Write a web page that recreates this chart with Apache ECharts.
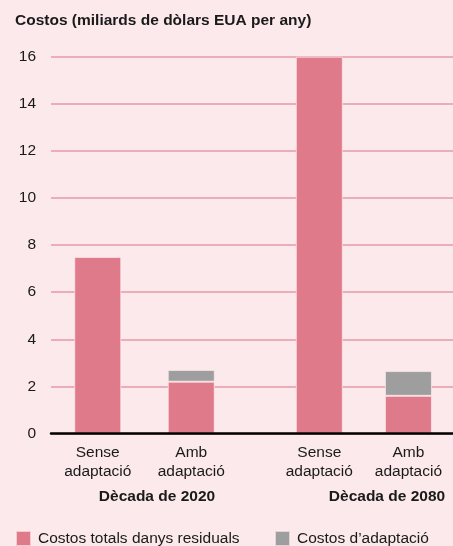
<!DOCTYPE html>
<html>
<head>
<meta charset="utf-8">
<script src="https://cdn.jsdelivr.net/npm/echarts@6/dist/echarts.min.js"></script>
<style>
  html, body { margin: 0; padding: 0; background: #fbe9eb; }
  #chart { width: 453px; height: 546px; }
</style>
</head>
<body>
<div id="chart"></div>
<script>
// values
const scenarios = ['Sense\nadaptació', 'Amb\nadaptació']
const decades = ['Dècada de 2020', 'Dècada de 2080']
const residual2020 = [7.5, 2.2]
const adapt2020 = [null, 0.5]
const residual2080 = [16, 1.6]
const adapt2080 = [null, 1.05]
const yMin = 0
const yMax = 16
const yStep = 2

const FONT = '"Liberation Sans", Arial, sans-serif'
const PINK = '#df7a8b'
const GREY = '#9e9e9e'
const INK = '#1a1a1a'
const nameResidual = 'Costos totals danys residuals'
const nameAdapt = 'Costos d\u2019adaptació'

const chart = echarts.init(document.getElementById('chart'), null, { renderer: 'canvas' })

const hiddenY = (idx) => ({
  type: 'value', gridIndex: idx, min: yMin, max: yMax, interval: yStep, show: false
})
const catX = (idx) => ({
  type: 'category',
  gridIndex: idx,
  data: scenarios,
  axisLine: { show: false },
  axisTick: { show: false },
  axisLabel: {
    color: INK, fontFamily: FONT, fontSize: 15.5, lineHeight: 18.5, margin: 10
  }
})
const barStyle = (color) => ({ color: color, borderColor: 'rgba(255,235,238,0.7)', borderWidth: 1 })

chart.setOption({
  backgroundColor: '#fbe9eb',
  animation: false,
  graphic: [
    {
      type: 'text', left: 15, top: 13,
      style: { text: 'Costos (miliards de dòlars EUA per any)', fill: INK, font: 'bold 15.5px ' + FONT }
    },
    {
      type: 'text', x: 157, y: 496.5,
      style: { text: decades[0], fill: INK, font: 'bold 15.5px ' + FONT, align: 'center', verticalAlign: 'middle' }
    },
    {
      type: 'text', x: 387, y: 496.5,
      style: { text: decades[1], fill: INK, font: 'bold 15.5px ' + FONT, align: 'center', verticalAlign: 'middle' }
    }
  ],
  legend: [
    {
      data: [nameResidual], left: 15, top: 530, padding: 0,
      icon: 'rect', itemWidth: 15, itemHeight: 15, itemGap: 0,
      textStyle: { color: INK, fontFamily: FONT, fontSize: 15.5, padding: [0, 0, 0, 2] }
    },
    {
      data: [nameAdapt], left: 274, top: 530, padding: 0,
      icon: 'rect', itemWidth: 15, itemHeight: 15, itemGap: 0,
      textStyle: { color: INK, fontFamily: FONT, fontSize: 15.5, padding: [0, 0, 0, 2] }
    }
  ],
  grid: [
    { left: 51, right: 0, top: 56.7, bottom: 112.5 },
    { left: 51, width: 187, top: 56.7, bottom: 112.5 },
    { left: 274.75, width: 187, top: 56.7, bottom: 112.5 }
  ],
  xAxis: [
    {
      type: 'category', gridIndex: 0, data: [''], z: 10,
      axisLine: { lineStyle: { color: '#000', width: 2.5 } },
      axisTick: { show: false },
      axisLabel: { show: false }
    },
    catX(1),
    catX(2)
  ],
  yAxis: [
    {
      type: 'value', gridIndex: 0, min: yMin, max: yMax, interval: yStep,
      axisLine: { show: false },
      axisTick: { show: false },
      splitLine: { lineStyle: { color: '#ebaeb8', width: 2 } },
      axisLabel: {
        color: INK, fontFamily: FONT, fontSize: 15.5, margin: 15,
        padding: [0, 0, 12, 0]
      }
    },
    hiddenY(1),
    hiddenY(2)
  ],
  series: [
    {
      name: nameResidual, type: 'bar', xAxisIndex: 1, yAxisIndex: 1, stack: 'a',
      barWidth: 47, data: residual2020, itemStyle: barStyle(PINK)
    },
    {
      name: nameAdapt, type: 'bar', xAxisIndex: 1, yAxisIndex: 1, stack: 'a',
      barWidth: 47, data: adapt2020, itemStyle: barStyle(GREY)
    },
    {
      name: nameResidual, type: 'bar', xAxisIndex: 2, yAxisIndex: 2, stack: 'b',
      barWidth: 47, data: residual2080, itemStyle: barStyle(PINK)
    },
    {
      name: nameAdapt, type: 'bar', xAxisIndex: 2, yAxisIndex: 2, stack: 'b',
      barWidth: 47, data: adapt2080, itemStyle: barStyle(GREY)
    }
  ]
})
</script>
</body>
</html>
